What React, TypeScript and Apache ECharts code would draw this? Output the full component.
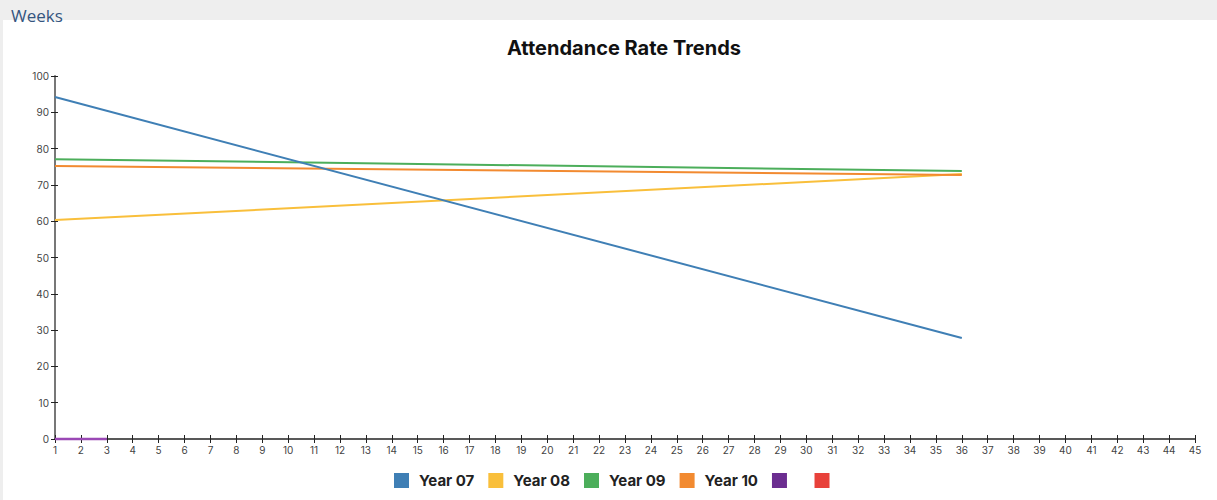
import React, { useEffect, useRef } from "react";
import * as echarts from "echarts";

// Week numbers on the x axis run from 1 to 45
const weekMin = 1;
const weekMax = 45;

// Trend line end points: [week, attendance %]
const year07: [number, number][] = [[1, 94.2], [36, 27.8]];
const year08: [number, number][] = [[1, 60.3], [36, 73.0]];
const year09: [number, number][] = [[1, 77.1], [36, 73.8]];
const year10: [number, number][] = [[1, 75.2], [36, 72.7]];
const year11: [number, number][] = [[1, 0], [3, 0]];
const year12: [number, number][] = [];

const seriesNames = ["Year 07", "Year 08", "Year 09", "Year 10", " ", "  "];
const seriesColors = ["#3f7fb5", "#f9bf3b", "#4cae5b", "#f28a30", "#6b2d90", "#e8413a"];
const lineColors = ["#3f7fb5", "#f9bf3b", "#4cae5b", "#f28a30", "#9a48b5", "#e8413a"];
const lineWidths = [2, 2, 2, 2, 2.5, 2];
const seriesData = [year07, year08, year09, year10, year11, year12];
const seriesZ = [6, 3, 5, 4, 10, 2];

const FONT = "Inter, 'Liberation Sans', sans-serif";

export default function App() {
  const ref = useRef<HTMLDivElement>(null);

  useEffect(() => {
    if (!ref.current) return;
    const chart = echarts.init(ref.current, null, { renderer: "svg" });

    const axisTickStyle = { color: "#222", width: 1 };

    chart.setOption({
      animation: false,
      backgroundColor: "#eeeeee",
      graphic: [
        {
          type: "rect",
          left: 3,
          top: 20,
          shape: { width: 1214, height: 480 },
          style: { fill: "#ffffff" },
          z: -10,
        },
        {
          type: "text",
          left: 11,
          top: 7,
          style: {
            text: "Weeks",
            fill: "#34557f",
            font: "17px 'Open Sans', 'Noto Sans', sans-serif",
          },
        },
      ],
      title: {
        text: "Attendance Rate Trends",
        left: 619,
        textAlign: "center",
        top: 33,
        textStyle: {
          fontFamily: FONT,
          fontWeight: "bold",
          fontSize: 20,
          color: "#111",
        },
      },
      legend: {
        bottom: 7,
        left: 389,
        icon: "rect",
        itemWidth: 15,
        itemHeight: 15,
        itemGap: 14,
        data: seriesNames,
        textStyle: {
          fontFamily: FONT,
          fontWeight: "bold",
          fontSize: 15,
          color: "#222",
          padding: [0, 0, 0, 5],
        },
      },
      grid: { left: 55, right: 22, top: 76, bottom: 61 },
      xAxis: [
        {
          type: "value",
          min: weekMin,
          max: weekMax,
          interval: 1,
          axisLine: { show: true, lineStyle: { color: "#222", width: 1.5 } },
          axisTick: { show: true, length: 4, lineStyle: axisTickStyle },
          axisLabel: { fontFamily: FONT, fontSize: 10, color: "#444", margin: 6 },
          splitLine: { show: false },
        },
        {
          type: "value",
          position: "bottom",
          min: weekMin,
          max: weekMax,
          interval: 1,
          axisLine: { show: false },
          axisTick: { show: true, inside: true, length: 4, lineStyle: axisTickStyle },
          axisLabel: { show: false },
          splitLine: { show: false },
        },
      ],
      yAxis: [
        {
          type: "value",
          min: 0,
          max: 100,
          interval: 10,
          axisLine: { show: true, lineStyle: { color: "#777", width: 2 } },
          axisTick: { show: true, length: 4, lineStyle: axisTickStyle },
          axisLabel: { fontFamily: FONT, fontSize: 10, color: "#444", margin: 6 },
          splitLine: { show: false },
        },
        {
          type: "value",
          position: "left",
          min: 0,
          max: 100,
          interval: 10,
          axisLine: { show: false },
          axisTick: { show: true, inside: true, length: 3, lineStyle: axisTickStyle },
          axisLabel: { show: false },
          splitLine: { show: false },
        },
      ],
      series: seriesNames.map((name, i) => ({
        name,
        type: "line",
        data: seriesData[i],
        color: seriesColors[i],
        showSymbol: false,
        symbol: "none",
        clip: false,
        z: seriesZ[i],
        lineStyle: { width: lineWidths[i], color: lineColors[i] },
      })),
    });

    return () => chart.dispose();
  }, []);

  return (
    <div
      ref={ref}
      style={{ position: "absolute", left: 0, top: 0, width: 1217, height: 500 }}
    />
  );
}
